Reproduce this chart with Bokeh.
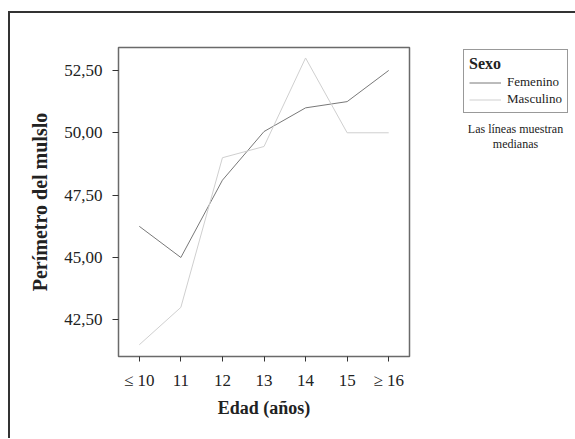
from bokeh.plotting import figure
from bokeh.models import (FactorRange, Range1d, FixedTicker, Legend, LegendItem,
                          Label, ColumnDataSource)
from bokeh.embed import file_html
from bokeh.resources import INLINE

# ---- data ----
edades = ["≤ 10", "11", "12", "13", "14", "15", "≥ 16"]
femenino = [46.25, 45.0, 48.1, 50.05, 51.0, 51.25, 52.5]
masculino = [41.5, 43.0, 49.0, 49.45, 53.0, 50.0, 50.0]
y_ticks = [42.5, 45.0, 47.5, 50.0, 52.5]
y_tick_labels = ["42,50", "45,00", "47,50", "50,00", "52,50"]

FONT = "Liberation Serif"

src = ColumnDataSource(dict(edad=edades, fem=femenino, mas=masculino))

p = figure(x_range=FactorRange(factors=edades), y_range=Range1d(41.03, 53.42),
           frame_width=291, frame_height=309,
           min_border_left=118, min_border_right=165,
           min_border_top=47, min_border_bottom=82,
           output_backend="svg", toolbar_location=None)

p.grid.visible = False
p.outline_line_color = "#6a6a6a"
p.outline_line_width = 1.5
p.background_fill_color = "white"
p.border_fill_alpha = 0
# outer frame of the figure (left and top edges visible in the reference)
p.styles = {
    "background": ("linear-gradient(#333333, #333333) 8px 11px / 2px 100% no-repeat, "
                   "linear-gradient(#333333, #333333) 8px 11px / 100% 2px no-repeat, white"),
}

for ax in (p.xaxis[0], p.yaxis[0]):
    ax.axis_line_color = None
    ax.major_tick_line_color = "#333333"
    ax.major_tick_in = 0
    ax.minor_tick_line_color = None
    ax.major_label_text_font = FONT
    ax.major_label_text_font_size = "17px"
    ax.major_label_text_color = "#222222"
    ax.axis_label_text_font = FONT
    ax.axis_label_text_font_style = "bold"
    ax.axis_label_text_color = "#222222"

p.xaxis.major_tick_out = 5
p.xaxis.major_label_standoff = 9
p.xaxis.axis_label = "Edad (años)"
p.xaxis.axis_label_text_font_size = "18px"
p.xaxis.axis_label_standoff = 5

p.yaxis.major_tick_out = 6
p.yaxis.major_label_standoff = 10
p.yaxis.ticker = FixedTicker(ticks=y_ticks)
p.yaxis.major_label_overrides = dict(zip(y_ticks, y_tick_labels))
p.yaxis.axis_label = "Perímetro del mulslo"
p.yaxis.axis_label_text_font_size = "20px"
p.yaxis.axis_label_standoff = 10

r_fem = p.line(x="edad", y="fem", source=src, line_color="#787878", line_width=1)
r_mas = p.line(x="edad", y="mas", source=src, line_color="#cfcfcf", line_width=1)

legend = Legend(items=[LegendItem(label="Femenino", renderers=[r_fem]),
                       LegendItem(label="Masculino", renderers=[r_mas])],
                title="Sexo", location=(54, 243), margin=0, padding=5, spacing=1,
                glyph_width=32, glyph_height=15, label_standoff=6,
                label_text_font=FONT, label_text_font_size="13px",
                label_text_color="#222222",
                title_text_font=FONT, title_text_font_style="bold",
                title_text_font_size="16px", title_text_color="#222222",
                title_standoff=1,
                border_line_color="#333333", border_line_width=1,
                background_fill_color="white", background_fill_alpha=1)
p.add_layout(legend, "right")

note1 = Label(x=515, y=128, x_units="canvas", y_units="canvas", text="Las líneas muestran",
              text_align="center", text_baseline="middle", text_font=FONT,
              text_font_size="12px", text_color="#222222")
note2 = Label(x=515, y=143, x_units="canvas", y_units="canvas", text="medianas",
              text_align="center", text_baseline="middle", text_font=FONT,
              text_font_size="12px", text_color="#222222")
p.add_layout(note1, "right")
p.add_layout(note2, "right")

open("out.html", "w").write(file_html(p, INLINE))
